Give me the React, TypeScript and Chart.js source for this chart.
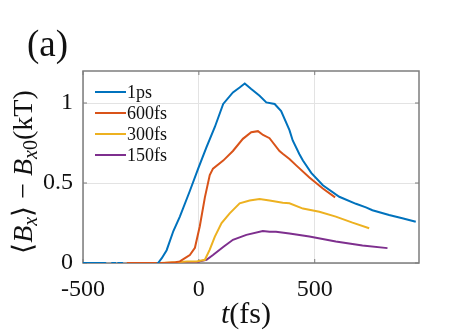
import React, { useEffect, useRef } from "react";
import { Chart, registerables } from "chart.js";

Chart.register(...registerables);

// ---------- data ----------
const seriesLabels = ["1ps", "600fs", "300fs", "150fs"];
const seriesColors = ["#0072BD", "#D95319", "#EDB120", "#7E2F8E"];

const t1ps = [-500, -440, -425, -404, -390, -374, -361, -355, -348, -331, -320, -250, -200, -176, -160, -139, -110, -82, -39, -3, 33, 69, 105, 147, 176, 198, 226, 262, 291, 327, 355, 391, 405, 434, 449, 485, 535, 606, 678, 721, 749, 821, 878, 936];
const b1ps = [0, 0, 0, 0, -0.02, 0, 0, -0.02, 0, 0, -0.02, -0.02, -0.02, 0, 0.03, 0.08, 0.2, 0.29, 0.45, 0.59, 0.724, 0.85, 0.994, 1.066, 1.097, 1.122, 1.087, 1.045, 1.004, 0.994, 0.95, 0.83, 0.766, 0.68, 0.64, 0.563, 0.486, 0.414, 0.37, 0.348, 0.33, 0.3, 0.28, 0.258];

const t600 = [-311, -250, -200, -150, -100, -82, -60, -39, -17, 4, 26, 47, 61, 105, 147, 190, 226, 255, 277, 305, 348, 362, 391, 420, 477, 535, 588];
const b600 = [0, 0, 0, 0, 0.005, 0.01, 0.03, 0.05, 0.095, 0.23, 0.41, 0.55, 0.59, 0.64, 0.7, 0.776, 0.817, 0.824, 0.8, 0.78, 0.7, 0.683, 0.65, 0.61, 0.534, 0.466, 0.41];

const t300 = [-167, -100, -50, -10, 26, 47, 69, 98, 133, 176, 219, 262, 305, 362, 391, 449, 520, 591, 663, 735];
const b300 = [0, 0.005, 0.01, 0.01, 0.02, 0.083, 0.165, 0.25, 0.31, 0.373, 0.39, 0.4, 0.39, 0.376, 0.373, 0.34, 0.32, 0.29, 0.252, 0.217];

const t150 = [-90, -50, -10, 4, 33, 61, 105, 147, 205, 276, 305, 333, 391, 477, 591, 706, 814];
const b150 = [0, 0, 0.004, 0.01, 0.02, 0.05, 0.1, 0.145, 0.176, 0.2, 0.196, 0.196, 0.184, 0.165, 0.134, 0.11, 0.093];

const xTicks = [-500, 0, 500];
const yTicks = [0, 0.5, 1];
const xMin = -500;
const xMax = 950;
const yMin = 0;
const yMax = 1.2;

const panelLabel = "(a)";

// ---------- styling ----------
const SERIF = '"Liberation Serif", "Times New Roman", serif';
const BOX = "#7d7d7d";

const decorPlugin = {
  id: "decor",
  beforeDatasetsDraw(chart: any) {
    const { ctx, chartArea } = chart;
    const { left, right, top, bottom } = chartArea;
    const xs = chart.scales.x;
    const ys = chart.scales.y;
    ctx.save();
    ctx.strokeStyle = BOX;
    ctx.lineWidth = 1.5;
    ctx.strokeRect(left, top, right - left, bottom - top);
    const tl = 4;
    ctx.lineWidth = 1;
    ctx.beginPath();
    xTicks.forEach((v) => {
      const px = xs.getPixelForValue(v);
      ctx.moveTo(px, bottom);
      ctx.lineTo(px, bottom - tl);
      ctx.moveTo(px, top);
      ctx.lineTo(px, top + tl);
    });
    yTicks.forEach((v) => {
      const py = ys.getPixelForValue(v);
      ctx.moveTo(left, py);
      ctx.lineTo(left + tl, py);
      ctx.moveTo(right, py);
      ctx.lineTo(right - tl, py);
    });
    ctx.stroke();
    ctx.restore();
  },
  afterDraw(chart: any) {
    const { ctx, chartArea } = chart;
    ctx.save();
    ctx.fillStyle = "#111";
    ctx.textBaseline = "alphabetic";
    ctx.textAlign = "left";

    // panel label
    ctx.font = `37px ${SERIF}`;
    ctx.fillText(panelLabel, 27, 56);

    // legend (no box)
    const rows = [92, 113, 134, 155];
    ctx.font = `18px ${SERIF}`;
    ctx.textBaseline = "middle";
    chart.data.datasets.forEach((ds: any, i: number) => {
      const y = rows[i];
      ctx.strokeStyle = ds.borderColor;
      ctx.lineWidth = 2;
      ctx.beginPath();
      ctx.moveTo(95, y);
      ctx.lineTo(126, y);
      ctx.stroke();
      ctx.fillStyle = "#111";
      ctx.fillText(ds.label, 127, y + 1);
    });

    const drawRuns = (runs: { t: string; f: string; dy: number }[], cx: number, cy: number) => {
      let total = 0;
      runs.forEach((r) => {
        ctx.font = r.f;
        total += ctx.measureText(r.t).width;
      });
      let x = cx - total / 2;
      runs.forEach((r) => {
        ctx.font = r.f;
        ctx.fillText(r.t, x, cy + r.dy);
        x += ctx.measureText(r.t).width;
      });
    };
    ctx.textBaseline = "alphabetic";
    ctx.textAlign = "left";

    // x title: t(fs)
    drawRuns(
      [
        { t: "t", f: `italic 30px ${SERIF}`, dy: 0 },
        { t: "(fs)", f: `30px ${SERIF}`, dy: 0 },
      ],
      246,
      323
    );

    // y title: ⟨Bx⟩ − Bx0(kT)
    const big = `28px ${SERIF}`;
    const bigI = `italic 28px ${SERIF}`;
    const sub = `20px ${SERIF}`;
    const subI = `italic 20px ${SERIF}`;
    const cy = (chartArea.top + chartArea.bottom) / 2 + 5;
    ctx.translate(32, cy);
    ctx.rotate(-Math.PI / 2);
    drawRuns(
      [
        { t: "⟨", f: big, dy: 0 },
        { t: "B", f: bigI, dy: 0 },
        { t: "x", f: subI, dy: 5 },
        { t: "⟩", f: big, dy: 0 },
        { t: " − ", f: big, dy: 0 },
        { t: "B", f: bigI, dy: 0 },
        { t: "x", f: subI, dy: 5 },
        { t: "0", f: sub, dy: 5 },
        { t: "(kT)", f: big, dy: 0 },
      ],
      0,
      0
    );
    ctx.restore();
  },
};

export default function App() {
  const ref = useRef<HTMLCanvasElement | null>(null);

  useEffect(() => {
    if (!ref.current) return;
    const xsArr = [t1ps, t600, t300, t150];
    const ysArr = [b1ps, b600, b300, b150];
    const chart = new Chart(ref.current, {
      type: "line",
      data: {
        datasets: seriesLabels.map((lab, i) => ({
          label: lab,
          data: xsArr[i].map((x, j) => ({ x, y: ysArr[i][j] })),
          borderColor: seriesColors[i],
          backgroundColor: seriesColors[i],
          borderWidth: 2,
          pointRadius: 0,
          tension: 0,
          fill: false,
        })),
      },
      options: {
        responsive: false,
        animation: false,
        events: [],
        layout: { padding: { top: 71, right: 45, left: 0, bottom: 0 } },
        plugins: {
          legend: { display: false },
          tooltip: { enabled: false },
          title: { display: false },
        },
        scales: {
          x: {
            type: "linear",
            min: xMin,
            max: xMax,
            afterBuildTicks: (s: any) => {
              s.ticks = xTicks.map((v) => ({ value: v }));
            },
            afterFit: (s: any) => {
              s.height = 72;
            },
            grid: { color: "#e3e3e3", lineWidth: 1, drawTicks: false },
            border: { display: false },
            ticks: {
              font: { family: SERIF, size: 24 },
              color: "#111",
              padding: 12,
              maxRotation: 0,
              callback: (v: any) => String(v),
            },
          },
          y: {
            type: "linear",
            min: yMin,
            max: yMax,
            afterBuildTicks: (s: any) => {
              s.ticks = yTicks.map((v) => ({ value: v }));
            },
            afterFit: (s: any) => {
              s.width = 83;
            },
            grid: { color: "#e3e3e3", lineWidth: 1, drawTicks: false },
            border: { display: false },
            ticks: {
              font: { family: SERIF, size: 24 },
              color: "#111",
              padding: 10,
              callback: (v: any) => String(v),
            },
          },
        },
      },
      plugins: [decorPlugin],
    });
    return () => chart.destroy();
  }, []);

  return (
    <div style={{ position: "absolute", left: 0, top: 0, width: 464, height: 335, background: "#fff" }}>
      <canvas ref={ref} width={464} height={335} style={{ width: 464, height: 335, display: "block" }} />
    </div>
  );
}
